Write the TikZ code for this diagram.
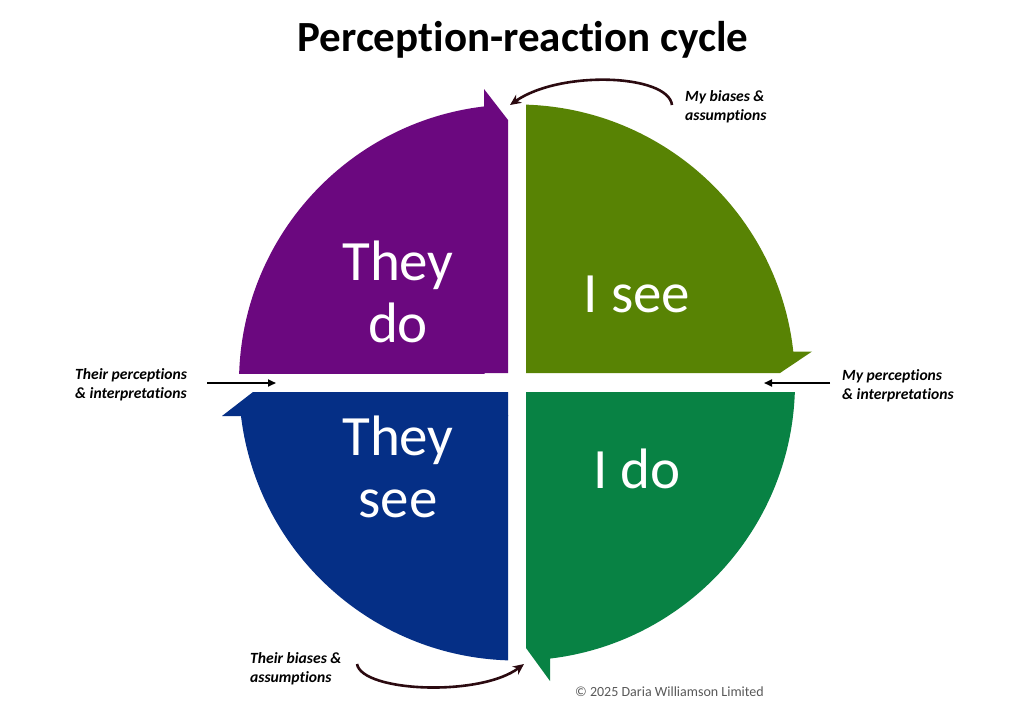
\documentclass[tikz,border=0pt]{standalone}
\usepackage{fontspec}
\setmainfont{Carlito}[Ligatures=NoCommon]
\usetikzlibrary{arrows.meta}
\definecolor{cpurple}{RGB}{107,8,127}
\definecolor{colive}{RGB}{88,131,4}
\definecolor{cblue}{RGB}{5,47,134}
\definecolor{cgreen}{RGB}{8,130,68}
\definecolor{carrow}{RGB}{43,10,16}
\definecolor{cgray}{RGB}{89,89,89}
\tikzset{
  big/.style={text=white, font=\fontsize{57}{62}\selectfont, align=center, inner sep=0pt},
  side/.style={font=\fontsize{15.6}{19}\selectfont\bfseries\itshape, align=left, inner sep=0pt},
  straightarrow/.style={line width=1.8pt, -{Triangle[length=8pt,width=7pt]}},
  curvearrow/.style={carrow, line width=2.6pt, -{Stealth[length=11pt,width=10pt]}},
}
\begin{document}
\begin{tikzpicture}[x=1pt,y=-1pt]
\useasboundingbox (0,0) rectangle (1032,720);
\fill[white] (0,0) rectangle (1032,720);
\def\R{278pt}
% top-right: I see
\begin{scope}
\clip (526,0) rectangle (1032,352);
\fill[colive] (517,382.5) circle[radius=\R];
\end{scope}
\fill[colive] (526,351.5) -- (812,351.5) -- (780,373) -- (526,373) -- cycle;
% top-left: They do
\begin{scope}
\clip (0,0) rectangle (484.5,373);
\fill[cpurple] (517,382.5) circle[radius=\R];
\end{scope}
\fill[cpurple] (484,373) -- (484,89) -- (508,120) -- (508,373) -- cycle;
% bottom-left: They see
\begin{scope}
\clip (0,415.5) rectangle (508,720);
\fill[cblue] (517,382.5) circle[radius=\R];
\end{scope}
\fill[cblue] (508,392) -- (253,392) -- (222,416) -- (508,416) -- cycle;
% bottom-right: I do
\begin{scope}
\clip (549.5,392) rectangle (1032,720);
\fill[cgreen] (517,382.5) circle[radius=\R];
\end{scope}
\fill[cgreen] (526,392) -- (526,648) -- (550,681) -- (550,392) -- cycle;

% title
\node[anchor=base, inner sep=0pt, font=\fontsize{43}{48}\selectfont\bfseries] (title) at (523,51) {Perception-reaction cycle};

% quadrant labels
\node[big] (theydo) at (398,292) {They\\do};
\node[big] (isee) at (637,294) {I see};
\node[big] (theysee) at (398,467) {They\\see};
\node[big] (ido) at (637,469) {I do};

% side labels (base = last line)
\node[side, anchor=base west] (mybias) at (685,120) {My biases \&\\assumptions};
\node[side, anchor=base west] (myperc) at (842,399) {My perceptions\\\& interpretations};
\node[side, anchor=base west] (theirperc) at (75,398) {Their perceptions\\\& interpretations};
\node[side, anchor=base west] (theirbias) at (250,682) {Their biases \&\\assumptions};
\node[anchor=base west, inner sep=0pt, text=cgray, font=\fontsize{14}{17}\selectfont] (copy) at (575,696) {\textcopyright{} 2025 Daria Williamson Limited};

% straight arrows
\coordinate (la) at (207,383);
\coordinate (lb) at (276,383);
\coordinate (ra) at (830,383);
\coordinate (rb) at (764,383);
\draw[straightarrow] (la) -- (lb);
\draw[straightarrow] (ra) -- (rb);

% curved arrows
\coordinate (ua) at (672,105);
\coordinate (ub) at (510,105);
\draw[curvearrow] (ua) .. controls (668,74) and (560,70) .. (ub);
\coordinate (da) at (357,664);
\coordinate (db) at (524,664);
\draw[curvearrow] (da) .. controls (362,692) and (480,697) .. (db);
\end{tikzpicture}
\end{document}
